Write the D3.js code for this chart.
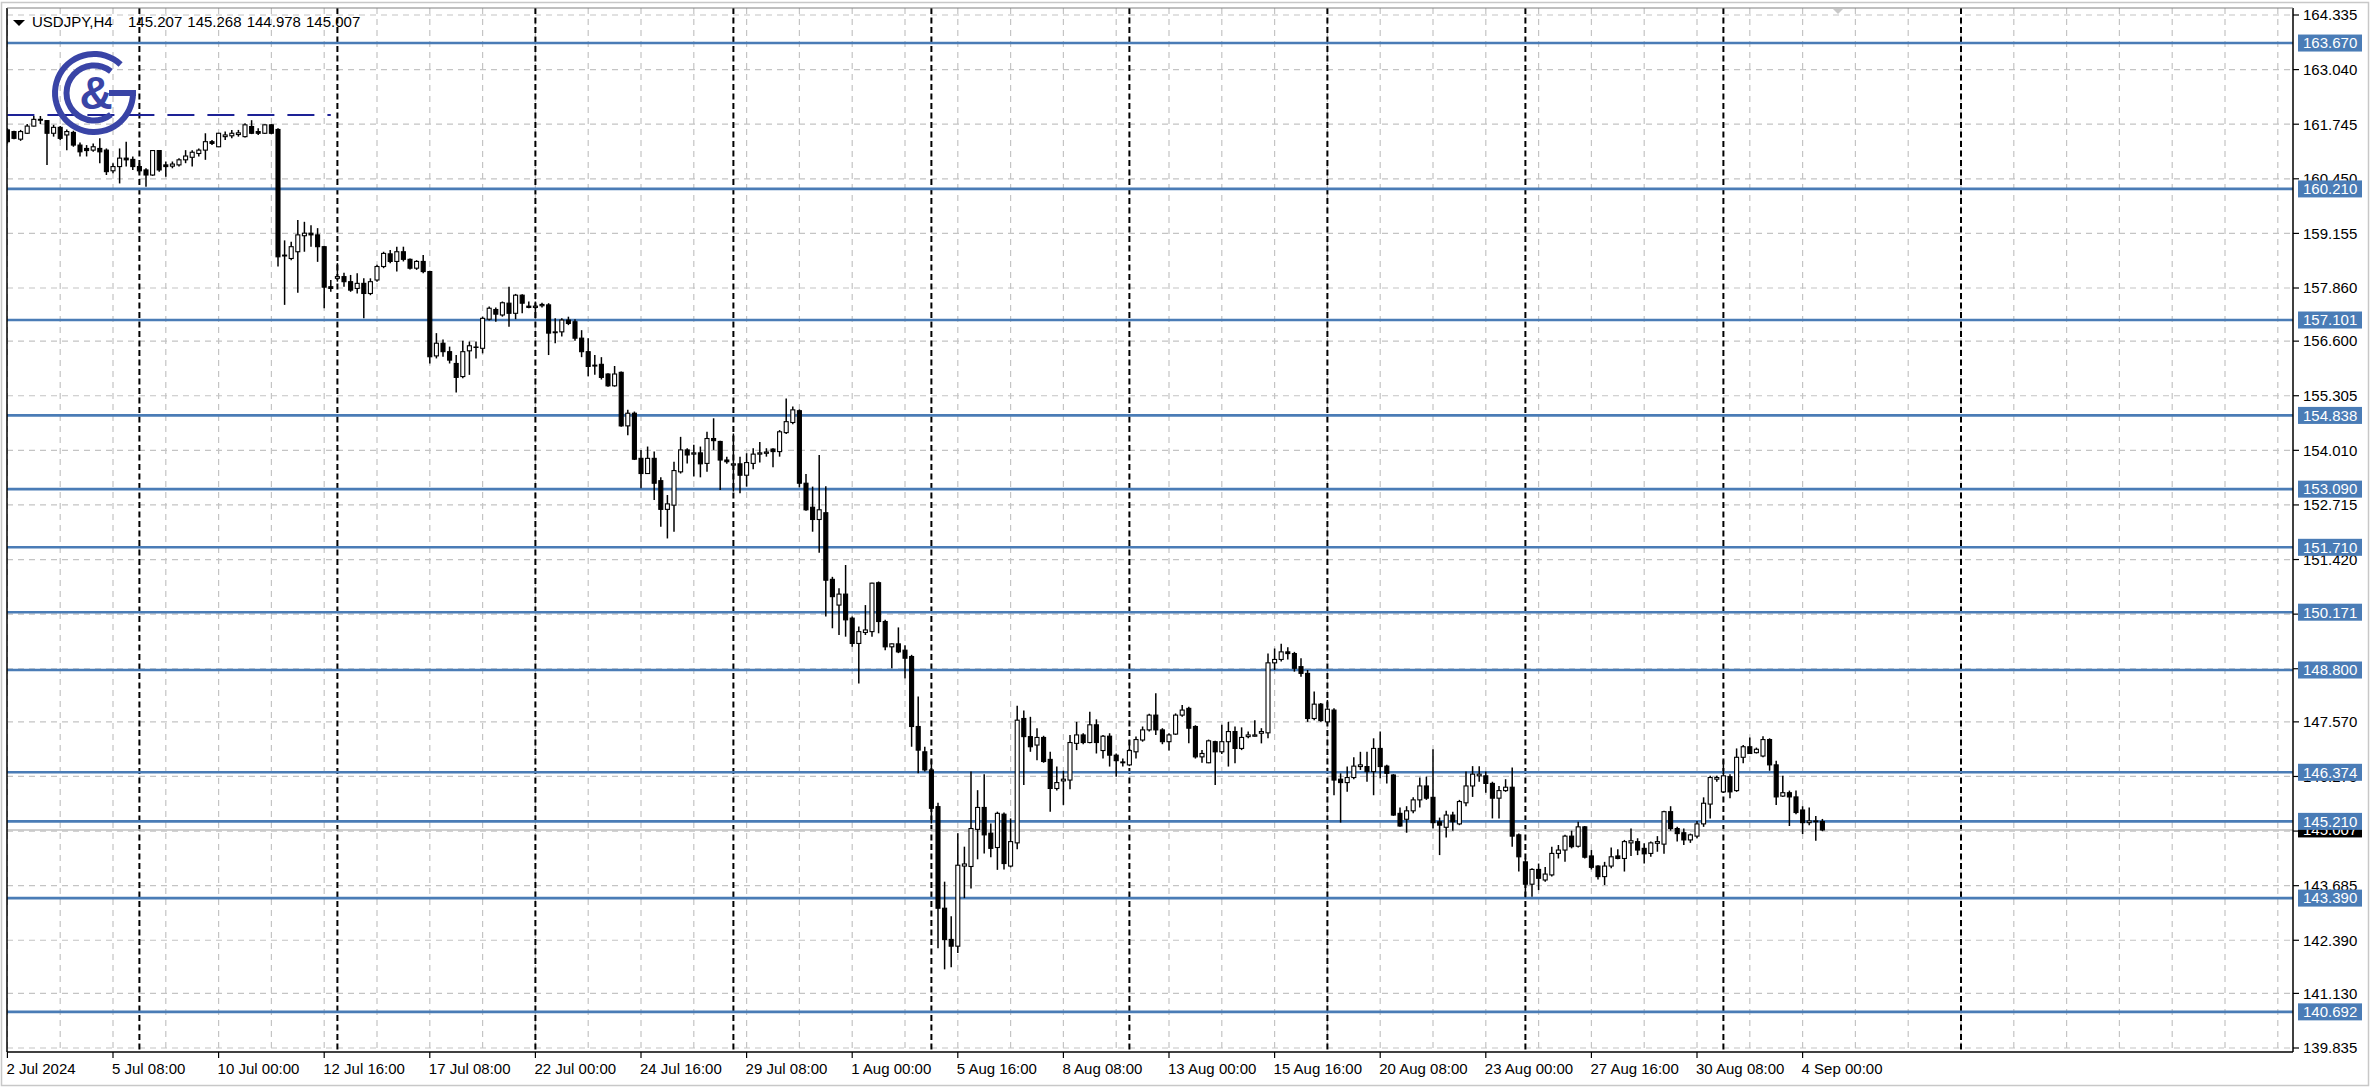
<!DOCTYPE html>
<html><head><meta charset="utf-8">
<script src="https://cdn.jsdelivr.net/npm/d3@7"></script>
<style>html,body{margin:0;padding:0;background:#fff;overflow:hidden}svg{display:block}</style>
</head><body>
<svg id="chart" width="2372" height="1089"></svg>
<script>
const symbol = "USDJPY,H4";
const opens = [161.61,161.57,161.39,161.53,161.70,161.86,161.83,161.53,161.67,161.49,161.55,161.25,161.17,161.13,161.17,161.13,160.64,160.74,160.94,160.91,160.74,160.66,160.54,161.12,160.78,160.75,160.78,160.90,160.96,161.05,161.13,161.33,161.21,161.45,161.47,161.50,161.45,161.69,161.57,161.53,161.73,161.62,158.64,158.56,158.72,159.10,159.16,159.12,158.84,157.89,158.09,158.13,158.01,157.85,157.97,157.73,158.05,158.37,158.67,158.49,158.72,158.54,158.33,158.49,158.25,156.25,156.55,156.35,156.07,155.76,156.37,156.45,156.43,157.12,157.35,157.22,157.50,157.26,157.69,157.43,157.40,157.44,157.46,156.80,156.82,157.10,157.06,156.67,156.35,156.03,156.05,155.82,155.54,155.86,154.59,154.89,153.82,153.46,153.82,153.29,152.61,152.71,153.50,154.02,153.92,153.95,153.70,154.29,154.22,153.78,153.66,153.69,153.42,153.70,153.92,153.94,154.04,153.98,154.43,154.67,154.95,153.23,152.66,152.37,152.53,150.95,150.34,150.60,150.03,149.43,149.69,149.71,150.87,149.95,149.35,149.42,149.27,149.12,147.46,146.86,146.43,145.56,143.15,142.41,142.25,144.15,144.14,145.02,145.54,144.93,144.59,145.38,144.15,144.70,147.65,147.22,147.02,147.20,146.68,145.99,146.17,146.19,147.06,147.26,147.08,147.50,146.89,147.23,146.78,146.62,146.55,146.86,147.14,147.38,147.73,147.38,147.10,147.28,147.73,147.89,147.46,146.74,146.60,147.10,146.86,147.10,147.34,146.94,147.22,147.23,147.30,147.31,148.97,149.05,149.23,149.19,148.88,148.72,147.65,147.99,147.57,147.85,146.21,146.13,146.25,146.51,146.51,146.39,146.94,146.52,146.31,145.40,145.26,145.46,145.72,146.05,145.78,145.20,145.07,145.36,145.15,145.65,146.05,146.29,146.29,146.11,145.76,145.94,146.02,144.89,144.25,143.72,144.07,143.82,143.94,144.45,144.53,144.86,144.62,145.08,144.39,144.15,143.90,144.15,144.39,144.33,144.70,144.73,144.57,144.45,144.69,144.67,145.44,145.04,144.94,144.77,144.86,145.15,145.62,146.21,145.91,146.27,145.94,146.73,146.98,146.84,146.76,147.15,146.55,145.81,145.89,145.79,145.48,145.18,145.22,145.207];
const highs = [161.65,161.59,161.61,161.75,161.94,161.94,161.84,161.73,161.70,161.62,161.59,161.31,161.25,161.29,161.41,161.17,160.82,161.17,161.33,160.98,160.82,160.70,161.13,161.13,160.86,160.86,160.94,161.13,161.13,161.17,161.53,161.37,161.54,161.57,161.61,161.61,161.77,161.84,161.65,161.74,161.75,161.65,158.99,158.96,159.47,159.43,159.35,159.28,158.86,158.05,158.45,158.22,158.17,158.21,158.09,158.09,158.41,158.72,158.76,158.84,158.84,158.56,158.52,158.64,158.27,156.79,156.64,156.47,156.27,156.61,156.59,156.59,157.18,157.42,157.40,157.54,157.89,157.72,157.71,157.54,157.54,157.51,157.50,157.14,157.14,157.18,157.12,156.86,156.67,156.27,156.22,155.84,156.01,155.88,154.97,154.93,154.02,154.10,153.98,153.37,152.95,153.74,154.33,154.06,154.14,154.10,154.45,154.77,154.24,153.86,154.41,153.86,153.94,154.06,154.21,154.06,154.06,154.49,155.24,155.05,154.98,153.45,153.15,153.90,153.16,151.01,150.74,151.29,150.07,149.83,150.34,150.87,150.90,149.99,149.43,149.81,149.39,149.16,148.17,146.98,146.66,145.65,143.78,142.96,144.93,144.61,146.39,145.95,146.33,145.16,145.44,145.42,145.28,147.95,147.84,147.69,147.42,147.24,146.86,146.51,146.41,147.26,147.57,147.30,147.81,147.63,147.26,147.30,146.82,146.70,147.14,147.22,147.46,147.76,148.25,147.42,147.30,147.77,147.97,147.93,147.49,146.90,147.15,147.12,147.50,147.57,147.46,147.44,147.34,147.61,147.42,149.19,149.31,149.42,149.34,149.23,149.08,148.80,148.29,148.02,148.09,147.89,146.35,146.51,146.73,146.86,146.86,147.18,147.34,146.55,146.33,145.54,145.57,145.78,146.25,146.27,146.92,145.30,145.46,145.44,145.72,146.39,146.52,146.52,146.39,146.15,146.05,146.21,146.49,144.92,144.33,144.10,144.21,144.13,144.61,144.65,144.89,144.99,145.20,145.10,144.53,144.17,144.25,144.59,144.55,144.77,145.04,144.81,144.69,144.73,144.86,145.46,145.57,145.08,145.04,144.92,145.22,145.78,146.29,146.29,146.66,146.33,146.94,147.02,147.20,146.96,147.23,147.18,146.65,146.29,145.94,145.94,145.57,145.54,145.34,145.268];
const lows = [161.29,161.39,161.35,161.51,161.69,161.75,160.78,161.45,161.37,161.13,161.21,160.98,160.98,161.09,160.82,160.54,160.58,160.34,160.74,160.66,160.58,160.26,160.52,160.62,160.50,160.70,160.74,160.82,160.74,160.98,160.90,161.25,161.20,161.37,161.41,161.45,161.43,161.51,161.49,161.51,161.51,158.37,157.46,158.52,157.75,158.72,158.84,158.48,157.38,157.77,158.01,157.89,157.77,157.73,157.14,157.69,158.01,158.33,158.45,158.25,158.49,158.30,158.29,158.21,156.07,156.19,156.23,156.07,155.38,155.72,155.80,156.19,156.31,157.09,157.06,157.18,156.94,157.12,157.26,157.38,157.14,157.40,156.27,156.55,156.71,156.98,156.61,156.22,155.77,155.80,155.69,155.52,155.52,154.57,154.37,153.78,153.11,153.45,152.83,152.20,151.92,152.08,153.46,153.70,153.39,153.37,153.50,154.02,153.07,153.69,153.03,152.99,153.15,153.56,153.72,153.86,153.61,153.86,154.40,154.63,153.13,152.58,152.08,151.58,150.07,149.79,149.63,149.59,149.35,148.48,149.63,149.59,149.67,149.27,148.84,149.20,148.60,146.98,146.35,146.39,145.16,142.20,141.70,141.75,142.09,143.39,143.62,144.31,144.45,144.36,144.06,144.07,144.12,144.55,146.07,146.86,146.66,146.60,145.44,145.94,145.60,145.97,146.90,147.04,147.06,146.82,146.70,146.51,146.27,146.51,146.52,146.70,147.10,147.34,147.26,147.04,146.89,147.26,147.69,147.06,146.70,146.60,146.59,146.07,146.81,146.51,146.59,146.90,147.18,147.22,147.06,147.18,148.80,149.00,149.05,148.76,148.64,147.57,147.61,147.57,147.53,145.83,145.18,145.91,146.21,146.43,146.15,145.83,146.23,146.11,145.34,145.08,144.94,145.40,145.54,145.72,145.04,144.41,144.83,144.99,145.12,145.57,145.79,146.15,145.89,145.28,145.28,145.91,144.61,144.02,143.41,143.42,143.58,143.78,143.90,144.33,144.25,144.57,144.59,144.33,144.07,143.83,143.70,144.10,144.31,144.02,144.39,144.41,144.21,144.37,144.49,144.44,144.99,144.73,144.65,144.70,144.81,145.08,145.28,146.15,145.89,145.76,145.91,146.59,146.81,146.82,146.73,146.41,145.60,145.79,145.10,145.38,144.91,145.12,144.75,144.978];
const closes = [161.33,161.41,161.57,161.70,161.86,161.84,161.53,161.67,161.41,161.57,161.25,161.09,161.12,161.21,161.09,160.62,160.74,160.94,160.90,160.74,160.64,160.54,161.12,160.66,160.74,160.80,160.90,160.99,161.08,161.13,161.33,161.29,161.53,161.49,161.53,161.54,161.73,161.53,161.53,161.73,161.53,158.60,158.62,158.84,159.12,159.16,159.12,158.84,157.88,157.85,158.13,158.01,157.81,157.97,157.73,158.01,158.37,158.68,158.49,158.72,158.54,158.33,158.49,158.25,156.23,156.55,156.35,156.15,155.74,156.35,156.49,156.46,157.14,157.38,157.24,157.51,157.26,157.69,157.50,157.40,157.43,157.47,156.79,156.82,157.10,157.02,156.67,156.35,156.00,156.01,155.74,155.54,155.82,154.59,154.89,153.80,153.46,153.82,153.23,152.61,152.74,153.53,154.02,153.90,153.95,153.69,154.29,154.24,153.78,153.74,153.69,153.42,153.72,153.92,153.95,153.97,153.98,154.45,154.69,154.97,153.23,152.60,152.37,152.60,150.93,150.54,150.60,149.99,149.43,149.71,149.75,150.86,149.95,149.35,149.42,149.23,149.08,147.46,146.90,146.43,145.52,143.15,142.41,142.25,144.17,144.20,145.04,145.54,144.89,144.57,145.40,144.21,144.73,147.61,147.22,146.98,147.20,146.63,145.99,146.13,146.21,147.08,147.26,147.08,147.50,147.08,147.23,146.78,146.65,146.60,146.89,147.15,147.38,147.73,147.38,147.10,147.26,147.73,147.85,147.42,146.74,146.82,147.12,146.86,147.10,147.34,146.94,147.20,147.26,147.26,147.34,148.97,149.05,149.23,149.19,148.84,148.72,147.65,147.99,147.60,147.87,146.19,146.13,146.25,146.52,146.55,146.39,146.94,146.51,146.35,145.36,145.10,145.46,145.72,146.05,145.76,145.18,145.12,145.36,145.20,145.68,146.05,146.33,146.33,146.11,145.76,145.94,146.02,144.86,144.37,143.72,144.07,143.86,143.96,144.45,144.53,144.86,144.61,145.08,144.36,144.12,143.90,144.15,144.37,144.33,144.73,144.75,144.53,144.44,144.70,144.73,145.44,145.04,144.92,144.77,144.89,145.15,145.64,146.25,146.25,146.29,145.91,146.73,146.98,146.82,146.92,147.15,146.55,145.79,145.89,145.79,145.42,145.18,145.22,145.20,145.007];

const xTickLabels = ["2 Jul 2024","5 Jul 08:00","10 Jul 00:00","12 Jul 16:00","17 Jul 08:00","22 Jul 00:00","24 Jul 16:00","29 Jul 08:00","1 Aug 00:00","5 Aug 16:00","8 Aug 08:00","13 Aug 00:00","15 Aug 16:00","20 Aug 08:00","23 Aug 00:00","27 Aug 16:00","30 Aug 08:00","4 Sep 00:00"];
const xTickBars = [0,16,32,48,64,80,96,112,128,144,160,176,192,208,224,240,256,272];
const separatorBars = [20,50,80,110,140,170,200,230,260,296];
const priceTicks = [164.335,163.040,161.745,160.450,159.155,157.860,156.600,155.305,154.010,152.715,151.420,150.125,148.830,147.570,146.275,144.980,143.685,142.390,141.130,139.835];
const levels = [163.670,160.210,157.101,154.838,153.090,151.710,150.171,148.800,146.374,145.210,143.390,140.692];
const trendLine = {price:161.963, fromBar:0, toBar:49};

const W = 2372, H = 1089;
const plot = {left:7, right:2293, top:8, bottom:1052};
const svg = d3.select('#chart');
const FONT = "'Liberation Sans', Arial, sans-serif";
const fmt = d3.format(".3f");

const x = d3.scaleLinear().domain([0, 100]).range([7.4, 667.4]);
const y = d3.scaleLinear().domain([139.835, 164.335]).range([1048, 15]);

svg.append('rect').attr('width', W).attr('height', H).attr('fill', '#fff');
svg.append('rect').attr('x',1.5).attr('y',2.5).attr('width',2367).attr('height',1083)
  .attr('fill','none').attr('stroke','#c8c8c8').attr('stroke-width',1.5);

svg.append('defs').append('clipPath').attr('id','clip').append('rect')
  .attr('x',plot.left).attr('y',plot.top).attr('width',plot.right-plot.left).attr('height',plot.bottom-plot.top);
const g = svg.append('g').attr('clip-path','url(#clip)');

// grid
const gridBars = d3.range(0, 400, 8).filter(b => x(b) < plot.right);
g.selectAll('line.vgrid').data(gridBars).join('line')
  .attr('x1', b => x(b)).attr('x2', b => x(b)).attr('y1', plot.top).attr('y2', plot.bottom)
  .attr('stroke','#c4c4c4').attr('stroke-width',1.2).attr('stroke-dasharray','6,5');
g.selectAll('line.hgrid').data(priceTicks).join('line')
  .attr('x1', plot.left).attr('x2', plot.right).attr('y1', p => y(p)).attr('y2', p => y(p))
  .attr('stroke','#c4c4c4').attr('stroke-width',1.2).attr('stroke-dasharray','6,5');
g.selectAll('line.sep').data(separatorBars).join('line')
  .attr('x1', b => x(b)).attr('x2', b => x(b)).attr('y1', plot.top).attr('y2', plot.bottom)
  .attr('stroke','#000').attr('stroke-width',2).attr('stroke-dasharray','6,3.5');

const last = opens.length - 1;
g.append('line').attr('x1',plot.left).attr('x2',plot.right)
  .attr('y1', y(closes[last])).attr('y2', y(closes[last]))
  .attr('stroke','#c0c0c0').attr('stroke-width',1.5);

const LEVEL = '#4a7cb6';
g.selectAll('line.level').data(levels).join('line')
  .attr('x1', plot.left).attr('x2', plot.right).attr('y1', p => y(p)).attr('y2', p => y(p))
  .attr('stroke', LEVEL).attr('stroke-width', 2.6);

g.append('line').attr('x1', x(trendLine.fromBar)).attr('x2', x(trendLine.toBar))
  .attr('y1', y(trendLine.price)).attr('y2', y(trendLine.price))
  .attr('stroke','#1d2296').attr('stroke-width',2).attr('stroke-dasharray','27,13');

// candles
const idx = d3.range(opens.length);
g.selectAll('line.wick').data(idx).join('line')
  .attr('x1', i => x(i)).attr('x2', i => x(i))
  .attr('y1', i => y(highs[i])).attr('y2', i => y(lows[i]))
  .attr('stroke','#000').attr('stroke-width',1.5);
const bw = 4;
g.selectAll('rect.body').data(idx).join('rect')
  .attr('x', i => x(i) - bw/2)
  .attr('y', i => y(Math.max(opens[i], closes[i])))
  .attr('width', bw)
  .attr('height', i => Math.max(0.01, Math.abs(y(opens[i]) - y(closes[i]))))
  .attr('fill', i => closes[i] >= opens[i] ? '#fff' : '#000')
  .attr('stroke','#000').attr('stroke-width',1.1);

// logo
const LOGO = '#3944a6';
const logo = svg.append('g').attr('transform','translate(94,93)').attr('fill', LOGO);
const deg = Math.PI/180;
logo.append('path').attr('d', d3.arc()({innerRadius:36, outerRadius:42, startAngle: 90*deg, endAngle: 403*deg}));
logo.append('rect').attr('x', 15).attr('y', -3).attr('width', 27).attr('height', 6);
logo.append('path').attr('d', d3.arc()({innerRadius:24.5, outerRadius:30.5, startAngle: 142*deg, endAngle: 398*deg}));
logo.append('text').attr('x', 2).attr('y', 16).attr('text-anchor','middle')
  .attr('font-family', FONT).attr('font-weight','bold').attr('font-size', 46).text('&');

// frame
const frame = svg.append('g').attr('stroke','#000').attr('stroke-width',1.5);
frame.append('line').attr('x1',plot.left).attr('x2',plot.left).attr('y1',plot.top).attr('y2',plot.bottom);
frame.append('line').attr('x1',plot.right).attr('x2',plot.right).attr('y1',plot.top).attr('y2',plot.bottom);
frame.append('line').attr('x1',plot.left).attr('x2',plot.right).attr('y1',plot.bottom).attr('y2',plot.bottom);
svg.append('line').attr('x1',plot.left).attr('x2',plot.right).attr('y1',plot.top).attr('y2',plot.top)
  .attr('stroke','#808080').attr('stroke-width',1.2);

// y axis: ticks for all grid levels, labels for those not fully covered by a price box
const boxPrices = levels.concat([closes[last]]);
const shownTicks = priceTicks.filter(p => boxPrices.every(b => Math.abs(y(p) - y(b)) > 3));
const yAx = svg.append('g');
yAx.selectAll('line').data(priceTicks).join('line')
  .attr('x1', plot.right).attr('x2', plot.right+6).attr('y1', p => y(p)).attr('y2', p => y(p))
  .attr('stroke','#000').attr('stroke-width',1.2);
yAx.selectAll('text').data(shownTicks).join('text')
  .attr('x', 2303).attr('y', p => y(p) + 5.3)
  .attr('font-family', FONT).attr('font-size', 15).attr('fill','#000')
  .text(p => fmt(p));

// x axis
const xAx = svg.append('g');
xAx.selectAll('line').data(xTickBars).join('line')
  .attr('x1', b => x(b)).attr('x2', b => x(b)).attr('y1', plot.bottom).attr('y2', plot.bottom+6)
  .attr('stroke','#000').attr('stroke-width',1.2);
xAx.selectAll('text').data(xTickBars).join('text')
  .attr('x', b => x(b) - 1).attr('y', 1074)
  .attr('font-family', FONT).attr('font-size', 15).attr('fill','#000')
  .text((b, i) => xTickLabels[i]);

// current price box
const cp = closes[last];
svg.append('rect').attr('x', 2298).attr('y', y(cp) - 7.5).attr('width', 64).attr('height', 15).attr('fill','#000');
svg.append('text').attr('x', 2303).attr('y', y(cp) + 5.3).attr('font-family', FONT).attr('font-size', 15)
  .attr('fill','#fff').text(fmt(cp));

// level boxes
const lb = svg.append('g');
lb.selectAll('rect').data(levels).join('rect')
  .attr('x', 2298).attr('y', p => y(p) - 8.5).attr('width', 64).attr('height', 17).attr('fill', LEVEL);
lb.selectAll('text').data(levels).join('text')
  .attr('x', 2303).attr('y', p => y(p) + 5.3)
  .attr('font-family', FONT).attr('font-size', 15).attr('fill','#fff').text(p => fmt(p));

// shift marker
svg.append('path').attr('d', `M${x(276)+4},9 L${x(276)+14},9 L${x(276)+9},14 Z`).attr('fill','#c8c8c8');

// title
svg.append('path').attr('d','M13,20 L25,20 L19,26 Z').attr('fill','#000');
const title = svg.append('text').attr('y', 27).attr('font-family', FONT).attr('font-size', 15).attr('fill','#000');
const titleParts = [symbol, fmt(opens[last]), fmt(highs[last]), fmt(lows[last]), fmt(closes[last])];
const titleX = [32, 128, 187.3, 246.7, 306];
titleParts.forEach((t, i) => title.append('tspan').attr('x', titleX[i]).text(t));
</script>
</body></html>
